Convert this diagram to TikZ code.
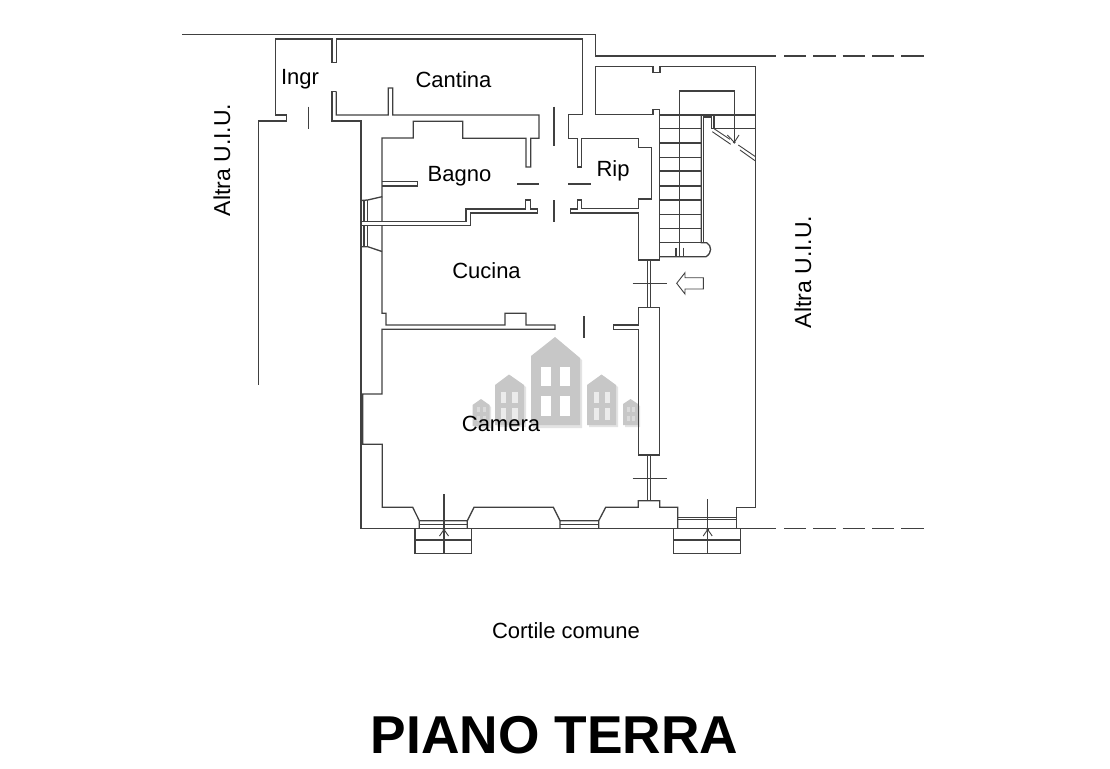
\documentclass[tikz,border=0pt]{standalone}
\usepackage{fontspec}
\setmainfont{Liberation Sans}
\definecolor{wallcol}{gray}{0.25}
\definecolor{housecol}{gray}{0.78}
\definecolor{shadecol}{gray}{0.89}
\tikzset{
  wall/.style={draw=wallcol, line width=1.3pt, line join=miter},
  thinwall/.style={draw=wallcol, line width=0.9pt},
  room/.style={font=\fontsize{22}{22}\selectfont, text=black, inner sep=0pt},
  altra/.style={font=\fontsize{23}{23}\selectfont, text=black, inner sep=0pt, rotate=90},
  house/.style={fill=housecol, draw=none},
  shade/.style={fill=shadecol, draw=none},
  pane/.style={fill=white, draw=none},
}
\begin{document}
\begin{tikzpicture}[x=1pt,y=-1pt]
  \useasboundingbox (0,0) rectangle (1110,768);
  % watermark
  \fill[shade] (557,339) -- (582,360) -- (582,428) -- (533,428) -- (533,358) -- cycle;
  \fill[shade] (510.5,376) -- (526,387) -- (526,427) -- (497,427) -- (497,387) -- cycle;
  \fill[shade] (603.5,376) -- (618,387) -- (618,427) -- (589,427) -- (589,387) -- cycle;
  \fill[shade] (483,401) -- (491,407) -- (491,428) -- (474,428) -- (474,407) -- cycle;
  \fill[shade] (632,401) -- (640,406) -- (640,427) -- (625,427) -- (625,406) -- cycle;
  \fill[house] (555,337) -- (580,358) -- (580,425) -- (531,425) -- (531,356) -- cycle;
  \fill[house] (509,374.5) -- (524,385) -- (524,425) -- (495,425) -- (495,385) -- cycle;
  \fill[house] (601.5,374.5) -- (616,385) -- (616,425) -- (587,425) -- (587,385) -- cycle;
  \fill[house] (481,399) -- (489.5,405) -- (489.5,426) -- (472.5,426) -- (472.5,405) -- cycle;
  \fill[house] (630.5,399) -- (638,404) -- (638,425) -- (623,425) -- (623,404) -- cycle;
  \foreach \xa in {541,560} \foreach \ya in {366.5,396}
    \fill[pane] (\xa,\ya) rectangle ++(9.5,19.5);
  \foreach \xa in {500.5,512,593.5,604.5} \foreach \ya in {391.5,408}
    \fill[pane,fill opacity=0.65] (\xa,\ya) rectangle ++(5.5,11.5);
  \foreach \xa in {476.5,482.5,626.5,632} \foreach \ya in {406.5,416}
    \fill[pane,fill opacity=0.35] (\xa,\ya) rectangle ++(3,5);

  % Ingr and Cantina
  \draw[wall] (182,34.7) -- (595.7,34.7) -- (595.7,56) -- (776,56);
  \draw[wall] (760,528.7) -- (776,528.7);
  \foreach \xa/\xb in {784/806,813.3/835.7,842.7/865,872/894.3,901.3/924}{
    \draw[wall] (\xa,56) -- (\xb,56);
    \draw[wall] (\xa,528.7) -- (\xb,528.7);
  }
  \draw[wall] (275.3,39) -- (332,39) -- (332,62.7) -- (336.3,62.7) -- (336.3,39) -- (582.7,39) -- (582.7,114.7)
    -- (568.7,114.7) -- (568.7,138.3) -- (577.3,138.3) -- (577.3,167) -- (581.7,167) -- (581.7,138.3)
    -- (638.3,138.3) -- (638.3,147.7) -- (651.3,147.7) -- (651.3,199) -- (638.3,199) -- (638.3,208.3)
    -- (581.7,208.3) -- (581.7,200) -- (577.3,200) -- (577.3,209) -- (570.7,209) -- (570.7,213)
    -- (638.3,213) -- (638.3,260) -- (659.5,260) -- (659.5,109.3) -- (653,109.3) -- (653,114.7)
    -- (595.7,114.7) -- (595.7,66.7) -- (653,66.7) -- (653,72.3) -- (660,72.3) -- (660,66.7)
    -- (755.5,66.7) -- (755.5,507.3) -- (736.7,507.3) -- (736.7,528.7);
  \draw[wall] (275.3,39) -- (275.3,115) -- (286.3,115) -- (286.3,121) -- (258.3,121) -- (258.3,385);
  \draw[wall] (336.3,91.3) -- (332,91.3) -- (332,121) -- (361,121) -- (361,528.7) -- (760,528.7);
  \draw[wall] (336.3,91.3) -- (336.3,115) -- (388.3,115) -- (388.3,88) -- (392.7,88) -- (392.7,115) -- (539,115)
    -- (539,138.3) -- (530.7,138.3) -- (530.7,167) -- (526,167) -- (526,138.3) -- (462.7,138.3)
    -- (462.7,121.2) -- (413.3,121.2) -- (413.3,138) -- (382,138) -- (382,196.7) -- (367.7,200) -- (361,200.5);
  % Bagno
  \draw[wall] (382,181.3) -- (417.3,181.3) -- (417.3,186) -- (382,186);
  \draw[wall] (364,201) -- (364,221.3) (367.7,200) -- (367.7,221.3);
  \draw[wall] (364,225.5) -- (364,247) (367.7,225.5) -- (367.7,247);
  \draw[wall] (361,221.3) -- (466,221.3) -- (466,209) -- (525.7,209) -- (525.7,200) -- (530.7,200) -- (530.7,209)
    -- (537.3,209) -- (537.3,213) -- (470.7,213) -- (470.7,225.5) -- (361,225.5);
  \draw[wall] (361,246.7) -- (367.7,246.7) -- (382,251.5);
  \draw[wall] (382,196.7) -- (382,221.3) (382,225.5) -- (382,313.3) -- (386,313.3) -- (386,325) -- (505,325)
    -- (505,313.3) -- (526,313.3) -- (526,325) -- (555,325) -- (555,329.3) -- (382,329.3) -- (382,394) -- (362.7,394)
    -- (362.7,444.3) -- (382.3,444.3) -- (382.3,507.3) -- (412.7,507.3) -- (419.3,520.7);
  % bottom wall and windows
  \draw[wall] (419.3,520.7) -- (419.3,528.7) (419.3,520.7) -- (467.3,520.7) -- (467.3,528.7)
    (467.3,520.7) -- (474,507.3) -- (553.3,507.3) -- (560,520.7) -- (560,528.7)
    (560,520.7) -- (598.7,520.7) -- (598.7,528.7) (598.7,520.7) -- (605.7,507.3) -- (638.3,507.3)
    -- (638.3,500.7) -- (659.7,500.7) -- (659.7,507.3) -- (677.7,507.3) -- (677.7,528.7);
  \draw[wall] (419.3,524.3) -- (467.3,524.3) (560,524.3) -- (598.7,524.3);
  \draw[wall] (677.7,517.2) -- (736.7,517.2) (677.7,519.2) -- (736.7,519.2);
  % partition and arrow
  \draw[wall] (613.3,325) -- (638.3,325) -- (638.3,307.7) -- (659.7,307.7) -- (659.7,455) -- (638.3,455)
    -- (638.3,329.3) -- (613.3,329.3) -- cycle;
  \draw[thinwall] (647.7,260) -- (647.7,307.7) (650.2,260) -- (650.2,307.7);
  \draw[thinwall] (647.7,455) -- (647.7,500.7) (650.2,455) -- (650.2,500.7);
  \draw[thinwall] (676.7,283.3) -- (685,272.7) -- (685,277.7) -- (703.3,277.7) -- (703.3,289) -- (685,289)
    -- (685,294) -- cycle;
  % doors
  \foreach \xa/\ya/\xb/\yb in {308.3/106.7/308.3/128.7,554/106.7/554/145.7,554/200/554/221.7,584/316/584/338.3,
      517.3/184/539.3/184,568.3/184/590.7/184,632.7/283.3/667.3/283.3,632.7/478.7/667.3/478.7,444/494.3/444/553.3,
      707.7/499.3/707.7/553.3}
    \draw[wall] (\xa,\ya) -- (\xb,\yb);
  % outside steps
  \draw[wall] (415,528.7) -- (415,553.3) -- (471.7,553.3) -- (471.7,528.7) (415,540) -- (471.7,540);
  \draw[wall] (673.7,528.7) -- (673.7,553.3) -- (740.3,553.3) -- (740.3,528.7) (673.7,540) -- (740.3,540);
  \foreach \xa in {444,707.7}{
    \draw[thinwall] (\xa-4.5,536) -- (\xa,529.5) -- (\xa+4.5,536);
    \fill[wallcol] (\xa,529.5) circle (1.4pt);
  }
  % stairs
  \foreach \ya in {115,128.7,143,157.3,171,186,200,214.3,228.7,242.7}
    \draw[wall] (659.5,\ya) -- (701.3,\ya);
  \draw[wall] (714,115) -- (755.5,115) (711.7,128.7) -- (755.5,128.7);
  \draw[wall] (679.7,256.7) -- (679.7,91) -- (734.3,91) -- (734.3,142.3);
  \draw[wall] (701.3,115) -- (701.3,242.7) -- (706.7,242.7) .. controls (712,246) and (712,253) .. (706,256.7)
    -- (659.5,256.7);
  \draw[wall] (703.3,117) -- (703.3,242.7);
  \draw[wall] (701.3,115) -- (714,115) -- (714,128.7);
  \draw[wall] (711.7,117) -- (703.3,117) (711.7,117) -- (711.7,128.7);
  \draw[wall] (676,247.7) -- (676,256.7) (683.3,247.7) -- (683.3,256.7);
  \draw[thinwall] (714,128.7) -- (730,139.3) (738.3,145) -- (755.5,156.7);
  \draw[thinwall] (712.3,131.7) -- (730.7,144.3) (740,150) -- (755,160.7);
  \draw[thinwall] (727.3,135) -- (734.3,142.3) -- (739,135);
  \fill[wallcol] (734.3,142.3) circle (1.4pt);

  \node[room] (ingr) at (300,79.5) {Ingr};
  \node[room] (cantina) at (453.5,80) {Cantina};
  \node[room] (bagno) at (459.5,176) {Bagno};
  \node[room] (rip) at (613,171) {Rip};
  \node[room] (cucina) at (486.5,271) {Cucina};
  \node[room] (camera) at (501,424) {Camera};
  \node[altra] (altraa) at (222,160) {Altra U.I.U.};
  \node[altra] (altrab) at (803,272) {Altra U.I.U.};
  \node[room] (cortile) at (566,631) {Cortile comune};
  \node[font=\fontsize{53.3}{53.3}\selectfont\bfseries, inner sep=0pt] (titolo) at (554.5,735) {PIANO TERRA};
\end{tikzpicture}
\end{document}
